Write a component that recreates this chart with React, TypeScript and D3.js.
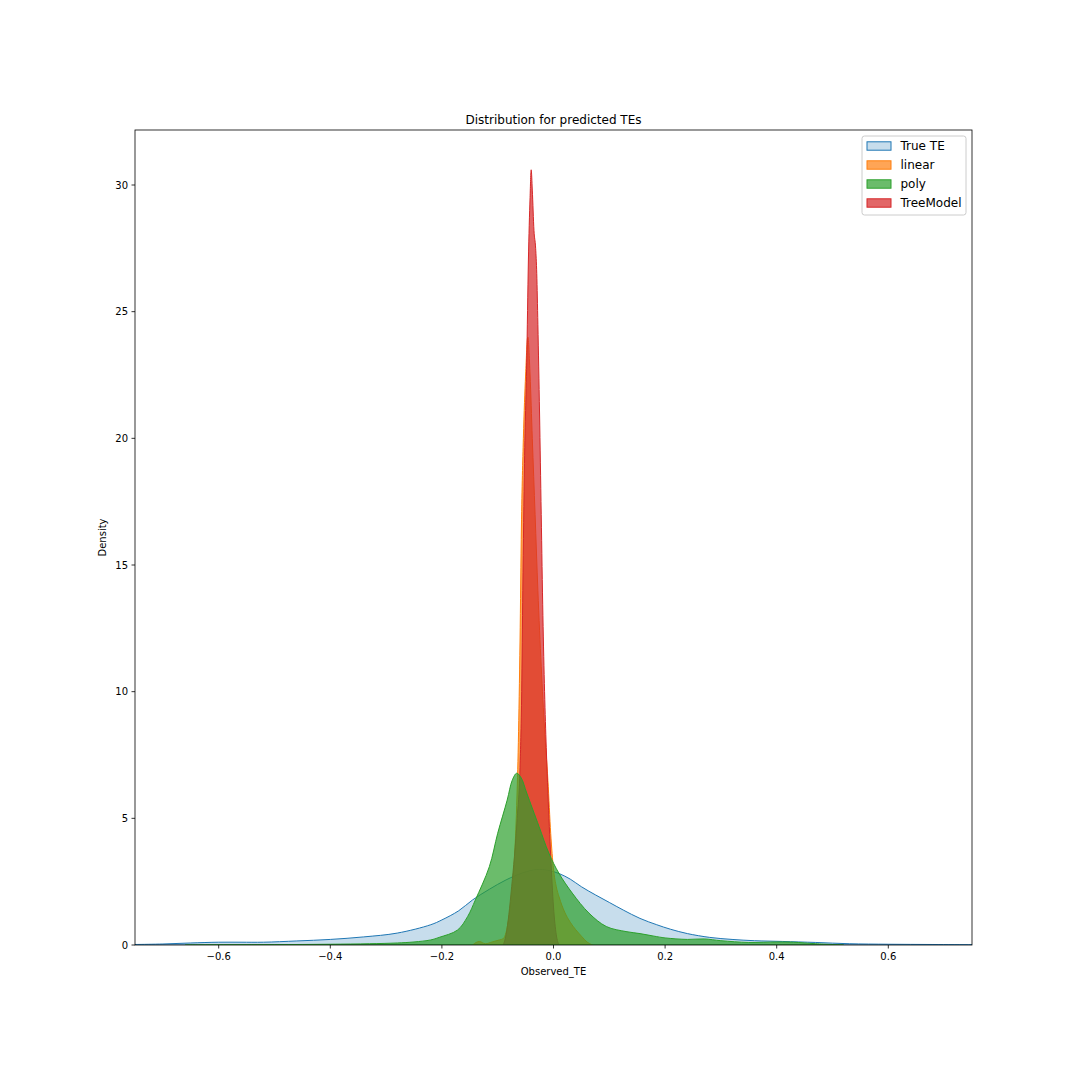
import React from "react";
import * as d3 from "d3";

// ---- data ----
const seriesNames = ["True TE", "linear", "poly", "TreeModel"];
const seriesColors = ["#1f77b4", "#ff7f0e", "#2ca02c", "#d62728"];
const seriesAlpha = [0.25, 0.7, 0.7, 0.7];

const trueTE: [number, number][] = [
  [-0.77, 0.015], [-0.75, 0.02], [-0.7, 0.04], [-0.65, 0.08], [-0.6, 0.11], [-0.56, 0.11], [-0.52, 0.11],
  [-0.46, 0.16], [-0.4, 0.22], [-0.34, 0.32], [-0.28, 0.47], [-0.22, 0.8], [-0.2, 0.99],
  [-0.17, 1.35], [-0.145, 1.78], [-0.115, 2.2], [-0.085, 2.57], [-0.055, 2.85], [-0.03, 2.98],
  [-0.01, 2.95], [0.01, 2.82], [0.03, 2.6], [0.05, 2.3], [0.075, 1.98], [0.1, 1.68],
  [0.125, 1.38], [0.155, 1.05], [0.185, 0.8], [0.21, 0.62], [0.24, 0.45], [0.28, 0.3],
  [0.32, 0.22], [0.36, 0.17], [0.41, 0.14], [0.47, 0.1], [0.53, 0.05], [0.6, 0.03],
  [0.68, 0.02], [0.75, 0.01], [0.77, 0.008],
];

const linear: [number, number][] = [
  [-0.145, 0], [-0.133, 0.14], [-0.122, 0.05], [-0.11, 0.12], [-0.097, 0.2], [-0.09, 0.25],
  [-0.085, 0.5], [-0.08, 1.1], [-0.075, 2.0], [-0.07, 3.4], [-0.066, 5.5], [-0.063, 8],
  [-0.06, 12], [-0.0575, 16.5], [-0.054, 20], [-0.05, 22.5], [-0.046, 24], [-0.042, 22.5],
  [-0.038, 20], [-0.033, 17], [-0.028, 14], [-0.022, 11], [-0.016, 8.5], [-0.01, 6.5],
  [-0.005, 4.4], [0, 3.0], [0.005, 2.3], [0.01, 1.9], [0.02, 1.3], [0.03, 0.9],
  [0.04, 0.6], [0.05, 0.35], [0.06, 0.12], [0.07, 0],
];

const poly: [number, number][] = [
  [-0.66, 0], [-0.58, 0.01], [-0.5, 0.015], [-0.4, 0.03], [-0.33, 0.05], [-0.28, 0.08],
  [-0.25, 0.12], [-0.22, 0.2], [-0.205, 0.3], [-0.172, 0.59], [-0.154, 1.12], [-0.14, 1.78],
  [-0.115, 3.09], [-0.1, 4.41], [-0.083, 5.72], [-0.074, 6.5], [-0.066, 6.78], [-0.058, 6.6],
  [-0.048, 6.0], [-0.026, 4.68], [-0.0084, 3.63], [0.0095, 2.84], [0.0336, 2.05], [0.0635, 1.26],
  [0.0946, 0.73], [0.13, 0.53], [0.155, 0.45], [0.18, 0.35], [0.2, 0.28], [0.24, 0.22],
  [0.27, 0.24], [0.3, 0.17], [0.35, 0.1], [0.4, 0.12], [0.43, 0.11], [0.47, 0.05], [0.52, 0],
];

const treeModel: [number, number][] = [
  [-0.09, 0], [-0.085, 0.4], [-0.08, 1.2], [-0.075, 2.3], [-0.07, 3.5], [-0.065, 5],
  [-0.06, 7], [-0.057, 10], [-0.055, 14], [-0.052, 19], [-0.048, 23], [-0.045, 27],
  [-0.042, 29.5], [-0.04, 30.6], [-0.038, 29.8], [-0.035, 28.2], [-0.032, 27.5],
  [-0.03, 26.5], [-0.028, 24.5], [-0.025, 21], [-0.022, 17], [-0.019, 13], [-0.016, 10],
  [-0.013, 7.8], [-0.01, 6], [-0.005, 3.5], [0, 1.5], [0.005, 0.4], [0.01, 0],
];

const seriesData = [trueTE, linear, poly, treeModel];
const drawOrder = [0, 1, 3, 2];

const xTicks = [-0.6, -0.4, -0.2, 0.0, 0.2, 0.4, 0.6];
const yTicks = [0, 5, 10, 15, 20, 25, 30];

const W = 1080;
const H = 1080;
const left = 135;
const right = 972;
const top = 130;
const bottom = 945;

export default function App() {
  const x = d3.scaleLinear().domain([-0.75, 0.75]).range([left, right]);
  const y = d3.scaleLinear().domain([0, 30]).range([bottom, bottom - 760]);

  const makeArea = (smooth: boolean) =>
    d3
      .area<[number, number]>()
      .x((d) => x(d[0]))
      .y0(y(0))
      .y1((d) => y(Math.max(0, d[1])))
      .curve(smooth ? d3.curveCatmullRom.alpha(0.5) : d3.curveMonotoneX);

  const fmt = (v: number) => (v < 0 ? "\u2212" + Math.abs(v).toFixed(1) : v.toFixed(1));
  const font = "DejaVu Sans, sans-serif";

  return (
    <svg width={W} height={H} style={{ position: "absolute", left: 0, top: 0, background: "#fff" }}>
      <rect x={0} y={0} width={W} height={H} fill="#fff" />
      <defs>
        <clipPath id="plot">
          <rect x={left} y={top} width={right - left} height={bottom - top} />
        </clipPath>
      </defs>
      <g clipPath="url(#plot)">
        {drawOrder.map((i) => {
          const smooth = i === 0 || i === 2;
          const p = makeArea(smooth)(seriesData[i]) + "Z";
          return (
            <g key={seriesNames[i]}>
              <path d={p} fill={seriesColors[i]} fillOpacity={seriesAlpha[i]} stroke="none" />
              <path d={p} fill="none" stroke={seriesColors[i]} strokeWidth={1} strokeLinejoin="round" />
            </g>
          );
        })}
      </g>
      {/* spines */}
      <rect x={left} y={top} width={right - left} height={bottom - top} fill="none" stroke="#000" strokeWidth={0.8} />
      {/* x ticks */}
      {xTicks.map((t) => (
        <g key={"x" + t}>
          <line x1={x(t)} x2={x(t)} y1={bottom} y2={bottom + 3.5} stroke="#000" strokeWidth={0.8} />
          <text x={x(t)} y={bottom + 15} fontSize={10} fontFamily={font} textAnchor="middle" fill="#000">
            {fmt(t)}
          </text>
        </g>
      ))}
      {yTicks.map((t) => (
        <g key={"y" + t}>
          <line x1={left - 3.5} x2={left} y1={y(t)} y2={y(t)} stroke="#000" strokeWidth={0.8} />
          <text x={left - 7} y={y(t) + 3.5} fontSize={10} fontFamily={font} textAnchor="end" fill="#000">
            {t}
          </text>
        </g>
      ))}
      <text x={(left + right) / 2} y={bottom + 30} fontSize={10} fontFamily={font} textAnchor="middle" fill="#000">
        Observed_TE
      </text>
      <text
        transform={`translate(${left - 29},${(top + bottom) / 2}) rotate(-90)`}
        fontSize={10}
        fontFamily={font}
        textAnchor="middle"
        fill="#000"
      >
        Density
      </text>
      <text x={(left + right) / 2} y={top - 6} fontSize={12} fontFamily={font} textAnchor="middle" fill="#000">
        Distribution for predicted TEs
      </text>
      {/* legend */}
      <g>
        <rect x={862} y={136} width={104} height={79} rx={2.5} fill="#fff" fillOpacity={0.8} stroke="#ccc" strokeWidth={1} />
        {seriesNames.map((n, i) => {
          const cy = 146 + i * 19;
          return (
            <g key={n}>
              <rect x={867} y={cy - 4.2} width={24} height={8.4} fill={seriesColors[i]} fillOpacity={seriesAlpha[i]} stroke={seriesColors[i]} strokeWidth={1} />
              <text x={900.5} y={cy + 4.3} fontSize={12} fontFamily={font} fill="#000">
                {n}
              </text>
            </g>
          );
        })}
      </g>
    </svg>
  );
}
